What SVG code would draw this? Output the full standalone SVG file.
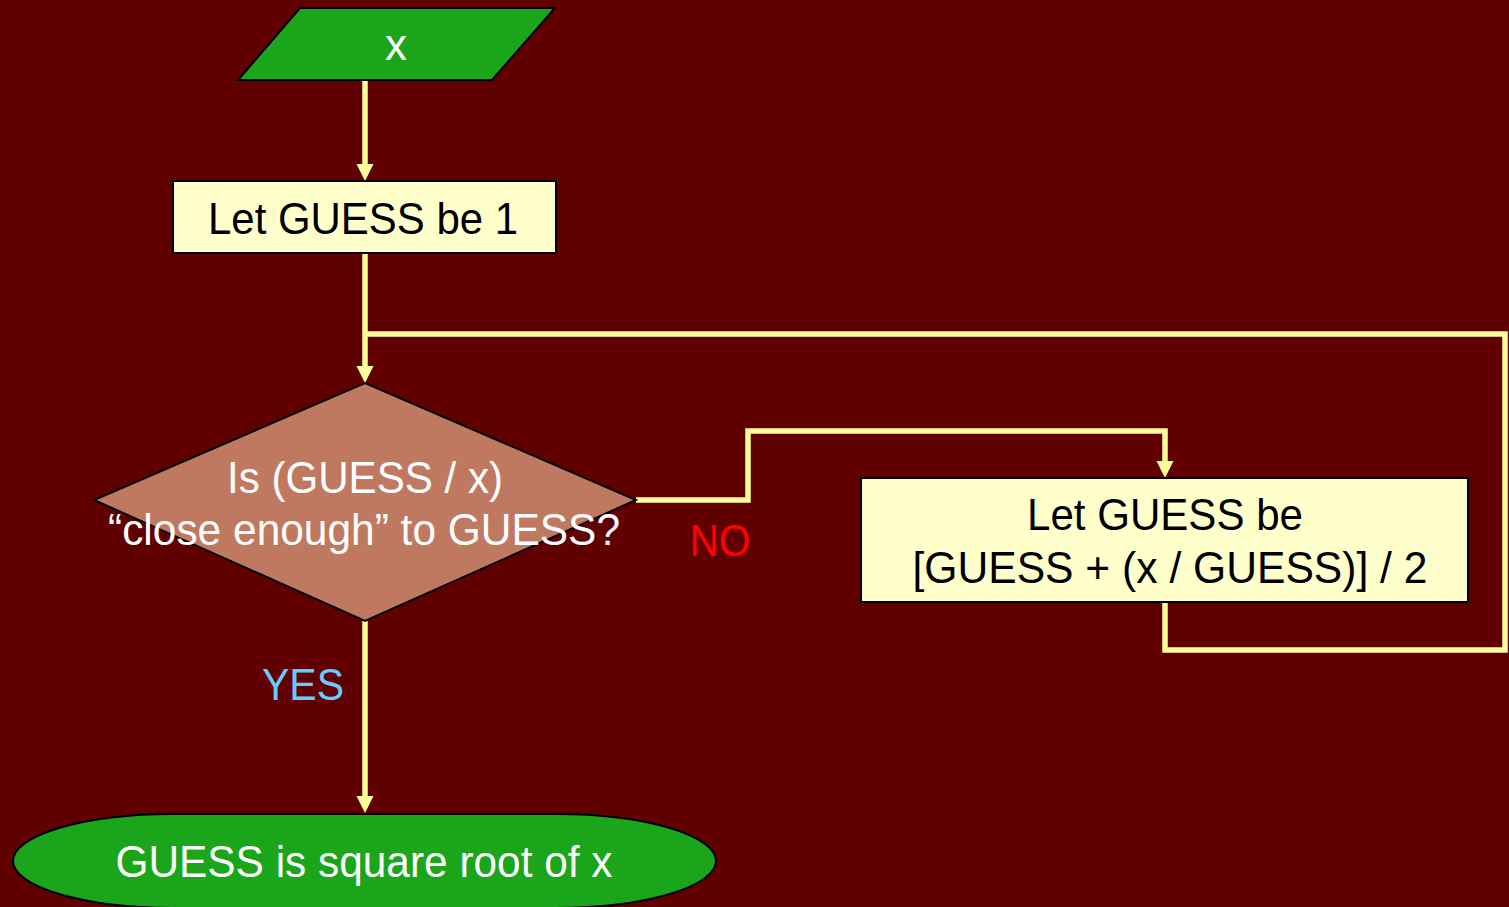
<svg xmlns="http://www.w3.org/2000/svg" width="1509" height="907" viewBox="0 0 1509 907">
  <style>
    .flow { fill: none; stroke: #FFFF99; stroke-width: 5.5; stroke-linejoin: miter; }
    .shape { stroke: #000000; stroke-width: 2; }
    .t { font-family: "Liberation Sans", Arial, sans-serif; font-size: 44px; text-anchor: middle; }
    .dark { fill: #000000; }
    .light { fill: #FFFFFF; }
  </style>
  <defs>
    <marker id="arrow" markerUnits="userSpaceOnUse" markerWidth="18" markerHeight="18" refX="9" refY="8.5" orient="auto">
      <path d="M0,0 L17,8.5 L0,17 Z" fill="#FFFF99"/>
    </marker>
  </defs>

  <!-- background -->
  <rect x="0" y="0" width="1509" height="907" fill="#600000"/>

  <!-- connectors -->
  <g id="connectors">
    <!-- input to initial guess -->
    <path class="flow" d="M365,80 L365,173" marker-end="url(#arrow)"/>
    <!-- initial guess to test -->
    <path class="flow" d="M365,253 L365,375" marker-end="url(#arrow)"/>
    <!-- NO branch to update -->
    <path class="flow" d="M636,500 L748,500 L748,431 L1165,431 L1165,470" marker-end="url(#arrow)"/>
    <!-- loop back from update to the test -->
    <path class="flow" d="M1165,602 L1165,650 L1505,650 L1505,334 L365,334"/>
    <!-- YES branch to result -->
    <path class="flow" d="M365,621 L365,805" marker-end="url(#arrow)"/>
  </g>

  <!-- input x -->
  <g id="node-input">
    <polygon class="shape" points="300,8 555,8 492,80 238,80" fill="#1AA51A"/>
    <text class="t light" x="396" y="60" font-size="42">x</text>
  </g>

  <!-- initial guess -->
  <g id="node-init">
    <rect class="shape" x="173" y="181" width="383" height="72" fill="#FFFFCC"/>
    <text class="t dark" x="363" y="234" textLength="310" lengthAdjust="spacingAndGlyphs">Let GUESS be 1</text>
  </g>

  <!-- decision -->
  <g id="node-test">
    <polygon class="shape" points="365,383 636,500 365,621 94,500" fill="#BF7960"/>
    <text class="t light" x="365" y="493" textLength="276" lengthAdjust="spacingAndGlyphs">Is (GUESS / x)</text>
    <text class="t light" x="364" y="545" textLength="512" lengthAdjust="spacingAndGlyphs">“close enough” to GUESS?</text>
  </g>

  <!-- branch labels -->
  <g id="label-no">
    <text class="t" x="720" y="556" fill="#FF0000" textLength="61" lengthAdjust="spacingAndGlyphs">NO</text>
  </g>
  <g id="label-yes">
    <text class="t" x="303" y="700" fill="#66CCFF" textLength="82" lengthAdjust="spacingAndGlyphs">YES</text>
  </g>

  <!-- update step -->
  <g id="node-update">
    <rect class="shape" x="861" y="478" width="607" height="124" fill="#FFFFCC"/>
    <text class="t dark" x="1165" y="530" textLength="276" lengthAdjust="spacingAndGlyphs">Let GUESS be</text>
    <text class="t dark" x="1170" y="583" textLength="515" lengthAdjust="spacingAndGlyphs">[GUESS + (x / GUESS)] / 2</text>
  </g>

  <!-- result -->
  <g id="node-result">
    <rect class="shape" x="13" y="814" width="703" height="94" rx="160" ry="47" fill="#1AA51A"/>
    <text class="t light" x="364" y="877" textLength="497" lengthAdjust="spacingAndGlyphs">GUESS is square root of x</text>
  </g>
</svg>
